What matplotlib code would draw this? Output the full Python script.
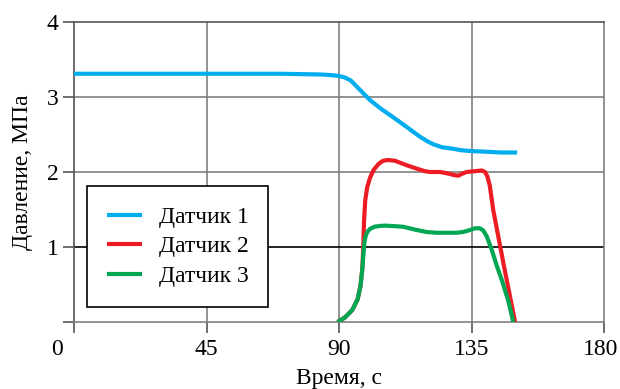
import numpy as np
import matplotlib.pyplot as plt
from matplotlib.transforms import ScaledTranslation

plt.rcParams['font.family'] = ['Liberation Serif', 'DejaVu Serif']

# Датчик 1
t1 = [0, 20, 45, 70, 84, 88, 90, 92, 94, 97, 100.5, 104, 108.4, 113, 117.5, 120, 122, 125, 128.7, 131.5, 134.5, 140, 145, 150.5]
p1 = [3.31, 3.31, 3.31, 3.31, 3.30, 3.29, 3.28, 3.26, 3.22, 3.10, 2.96, 2.85, 2.73, 2.60, 2.47, 2.41, 2.37, 2.33, 2.31, 2.29, 2.28, 2.27, 2.26, 2.26]

# Датчик 2
t2 = [89.5, 92, 94.5, 96.3, 97.3, 97.9, 98.2, 98.5, 98.9, 99.6, 100.6, 101.8, 103.5, 105, 106.7, 109, 111, 113, 116, 119.2, 121, 124.3, 127, 129, 130.5, 132, 133.4, 136, 138.5, 139.6, 140.4, 141.2, 142.4, 146, 149.8]
p2 = [0.0, 0.06, 0.16, 0.30, 0.48, 0.70, 0.95, 1.35, 1.62, 1.80, 1.93, 2.03, 2.11, 2.15, 2.16, 2.15, 2.12, 2.09, 2.05, 2.01, 2.00, 2.00, 1.98, 1.96, 1.95, 1.98, 2.00, 2.01, 2.02, 2.00, 1.94, 1.82, 1.49, 0.75, 0.0]

# Датчик 3
t3 = [89.5, 92, 94.5, 96.3, 97.3, 97.9, 98.3, 98.6, 99.0, 99.6, 100.5, 102, 103.8, 105.6, 108, 111.8, 116, 119.8, 123, 126.6, 130, 132.1, 134, 136.2, 137.8, 139, 140.2, 141.9, 143.5, 145.3, 147.5, 149.2]
p3 = [0.0, 0.06, 0.16, 0.30, 0.48, 0.70, 0.90, 1.05, 1.14, 1.20, 1.24, 1.27, 1.28, 1.285, 1.28, 1.27, 1.23, 1.20, 1.19, 1.19, 1.19, 1.20, 1.22, 1.25, 1.25, 1.22, 1.14, 0.96, 0.76, 0.56, 0.28, 0.0]

xticks = [0, 45, 90, 135, 180]
yticks = [0, 1, 2, 3, 4]
ytick_labels = ['', '1', '2', '3', '4']

fig = plt.figure(figsize=(6.2, 3.89), dpi=100)
ax = fig.add_axes([74 / 620, 1 - 322 / 389, 530 / 620, 300 / 389])

# сетка
grey = '#808080'
for x in xticks[1:-1]:
    ax.axvline(x, color=grey, lw=1.2, zorder=1)
for y in yticks[1:-1]:
    ax.axhline(y, color='black' if y == 1 else grey, lw=1.2, zorder=1)

ax.plot(t2, p2, color='#ed1c24', lw=3, solid_joinstyle='round', solid_capstyle='butt', label='Датчик 2', zorder=3)
ax.plot(t3, p3, color='#00a651', lw=3, solid_joinstyle='round', solid_capstyle='butt', label='Датчик 3', zorder=4)
ax.plot(t1, p1, color='#00aeef', lw=3, solid_joinstyle='round', solid_capstyle='butt', label='Датчик 1', zorder=5)

ax.set_xlim(0, 180)
ax.set_ylim(0, 4)
ax.set_xticks(xticks)
ax.set_yticks(yticks)
ax.set_yticklabels(ytick_labels)
ax.tick_params(direction='out', length=8, width=1.2, color='#555555', labelsize=17, pad=3)
ax.tick_params(axis='x', pad=4)

for s in ax.spines.values():
    s.set_color(grey)
    s.set_linewidth(1.2)
ax.spines['left'].set_color('#555555')
ax.spines['top'].set_color('#555555')

# крайние подписи оси x сдвинуты внутрь
xlbls = ax.get_xticklabels()
xlbls[0].set_transform(xlbls[0].get_transform() + ScaledTranslation(-17 / 100, 0, fig.dpi_scale_trans))
xlbls[-1].set_transform(xlbls[-1].get_transform() + ScaledTranslation(-3 / 100, 0, fig.dpi_scale_trans))

ax.set_xlabel('Время, с', fontsize=17, labelpad=6)
ax.set_ylabel('Давление, МПа', fontsize=17, labelpad=10)

h, l = ax.get_legend_handles_labels()
order = [2, 0, 1]
leg = ax.legend([h[i] for i in order], [l[i] for i in order], loc='lower left',
                bbox_to_anchor=(0.0245, 0.05), borderaxespad=0, fontsize=17,
                fancybox=False, framealpha=1, edgecolor='black',
                handlelength=1.48, handletextpad=0.7, labelspacing=0.34, borderpad=0.85)
leg.get_frame().set_linewidth(1.2)
leg.set_zorder(6)

fig.savefig('out.png', dpi=100)
